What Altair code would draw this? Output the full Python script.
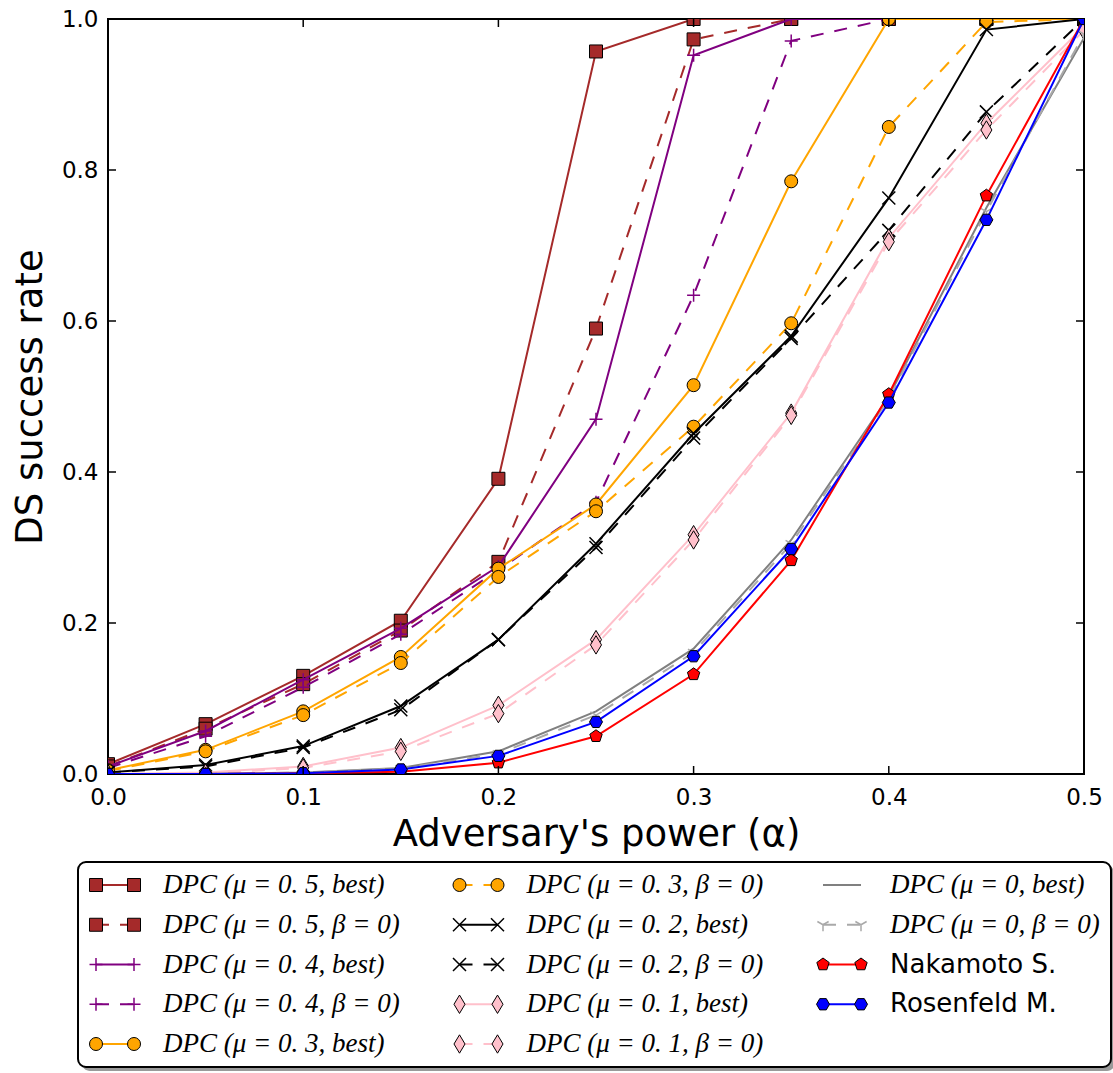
import altair as alt
import pandas as pd

# ---------------- data ----------------
alpha = [0.0, 0.05, 0.1, 0.15, 0.2, 0.25, 0.3, 0.35, 0.4, 0.45, 0.5]

labels = [
    "DPC (μ = 0. 5, best)", "DPC (μ = 0. 5, β = 0)",
    "DPC (μ = 0. 4, best)", "DPC (μ = 0. 4, β = 0)",
    "DPC (μ = 0. 3, best)", "DPC (μ = 0. 3, β = 0)",
    "DPC (μ = 0. 2, best)", "DPC (μ = 0. 2, β = 0)",
    "DPC (μ = 0. 1, best)", "DPC (μ = 0. 1, β = 0)",
    "DPC (μ = 0, best)", "DPC (μ = 0, β = 0)",
    "Nakamoto S.", "Rosenfeld M.",
]

mu05_best = [0.013, 0.066, 0.130, 0.203, 0.391, 0.957, 1.0, 1.0, 1.0, 1.0, 1.0]
mu05_b0 = [0.010, 0.060, 0.119, 0.190, 0.281, 0.590, 0.973, 1.0, 1.0, 1.0, 1.0]
mu04_best = [0.010, 0.057, 0.125, 0.193, 0.275, 0.470, 0.952, 1.0, 1.0, 1.0, 1.0]
mu04_b0 = [0.008, 0.050, 0.115, 0.185, 0.270, 0.360, 0.634, 0.971, 1.0, 1.0, 1.0]
mu03_best = [0.005, 0.032, 0.083, 0.155, 0.272, 0.357, 0.515, 0.785, 1.0, 1.0, 1.0]
mu03_b0 = [0.004, 0.030, 0.078, 0.147, 0.261, 0.348, 0.460, 0.597, 0.857, 0.996, 1.0]
mu02_best = [0.002, 0.012, 0.037, 0.090, 0.178, 0.305, 0.451, 0.580, 0.763, 0.986, 1.0]
mu02_b0 = [0.002, 0.010, 0.035, 0.085, 0.178, 0.300, 0.445, 0.577, 0.720, 0.877, 1.0]
mu01_best = [0.0, 0.002, 0.010, 0.035, 0.091, 0.178, 0.317, 0.478, 0.710, 0.862, 0.990]
mu01_b0 = [0.0, 0.001, 0.008, 0.030, 0.080, 0.171, 0.310, 0.475, 0.705, 0.853, 0.985]
mu0_best = [0.0, 0.0, 0.002, 0.008, 0.030, 0.083, 0.166, 0.310, 0.500, 0.750, 0.975]
mu0_b0 = [0.0, 0.0, 0.002, 0.007, 0.027, 0.078, 0.161, 0.305, 0.497, 0.745, 0.980]
nakamoto = [0.0, 0.0, 0.001, 0.003, 0.015, 0.050, 0.132, 0.283, 0.503, 0.766, 1.0]
rosenfeld = [0.0, 0.0, 0.001, 0.006, 0.024, 0.069, 0.156, 0.298, 0.492, 0.734, 1.0]

series_values = [mu05_best, mu05_b0, mu04_best, mu04_b0, mu03_best, mu03_b0,
                 mu02_best, mu02_b0, mu01_best, mu01_b0, mu0_best, mu0_b0,
                 nakamoto, rosenfeld]

x_ticks = [0.0, 0.1, 0.2, 0.3, 0.4, 0.5]
y_ticks = [0.0, 0.2, 0.4, 0.6, 0.8, 1.0]

# ---------------- styles ----------------
PLUS = "M-1,0L1,0M0,-1L0,1"
CROSS = "M-1,-1L1,1M-1,1L1,-1"
THIN_DIAMOND = "M0,-1.414L0.849,0L0,1.414L-0.849,0Z"
PENTAGON = "M0,-1L0.951,-0.309L0.588,0.809L-0.588,0.809L-0.951,-0.309Z"
HEXAGON = "M-1,0L-0.5,-0.866L0.5,-0.866L1,0L0.5,0.866L-0.5,0.866Z"
TRI_DOWN = "M0,0L0,1M0,0L0.866,-0.5M0,0L-0.866,-0.5"

styles = [
    dict(color="#a52a2a", dash=False, shape="square", filled=True),
    dict(color="#a52a2a", dash=True, shape="square", filled=True),
    dict(color="#800080", dash=False, shape=PLUS, filled=False),
    dict(color="#800080", dash=True, shape=PLUS, filled=False),
    dict(color="#ffa500", dash=False, shape="circle", filled=True),
    dict(color="#ffa500", dash=True, shape="circle", filled=True),
    dict(color="#000000", dash=False, shape=CROSS, filled=False),
    dict(color="#000000", dash=True, shape=CROSS, filled=False),
    dict(color="#ffc0cb", dash=False, shape=THIN_DIAMOND, filled=True),
    dict(color="#ffc0cb", dash=True, shape=THIN_DIAMOND, filled=True),
    dict(color="#808080", dash=False, shape=None, filled=False),
    dict(color="#a9a9a9", dash=True, shape=TRI_DOWN, filled=False),
    dict(color="#ff0000", dash=False, shape=PENTAGON, filled=True),
    dict(color="#0000ff", dash=False, shape=HEXAGON, filled=True),
]
DASH = [13, 11]
MSIZE = 169
W, H = 976, 755

xscale = alt.Scale(domain=[0, 0.5], nice=False, zero=False)
yscale = alt.Scale(domain=[0, 1], nice=False, zero=False)

xaxis = alt.Axis(values=x_ticks, format=".1f", title="Adversary's power (α)",
                 ticks=False, domain=False, grid=False,
                 labelFont="DejaVu Sans", labelFontSize=23, labelColor="black",
                 labelPadding=12, titleFont="DejaVu Sans", titleFontSize=37,
                 titleFontWeight="normal", titleColor="black", titlePadding=7,
                 labelFlush=False, labelOverlap=False)
yaxis = alt.Axis(values=y_ticks, format=".1f", title="DS success rate",
                 ticks=False, domain=False, grid=False,
                 labelFont="DejaVu Sans", labelFontSize=23, labelColor="black",
                 labelPadding=10, titleFont="DejaVu Sans", titleFontSize=37,
                 titleFontWeight="normal", titleColor="black", titlePadding=12,
                 labelFlush=False, labelOverlap=False)


def point_mark(data, st, **kw):
    if st["filled"]:
        return alt.Chart(data).mark_point(shape=st["shape"], size=MSIZE, filled=True,
                                          fill=st["color"], stroke="black",
                                          strokeWidth=1, opacity=1, **kw)
    return alt.Chart(data).mark_point(shape=st["shape"], size=MSIZE, filled=False,
                                      stroke=st["color"], strokeWidth=1.5,
                                      opacity=1, **kw)


layers = []
# ---------------- data layers ----------------
for i, (vals, st) in enumerate(zip(series_values, styles)):
    df = pd.DataFrame({"alpha": alpha, "rate": vals})
    ex = alt.X("alpha:Q", scale=xscale, axis=xaxis)
    ey = alt.Y("rate:Q", scale=yscale, axis=yaxis)
    lkw = dict(color=st["color"], strokeWidth=2, clip=True)
    if st["dash"]:
        lkw["strokeDash"] = DASH
    layers.append(alt.Chart(df).mark_line(**lkw).encode(x=ex, y=ey))
    if st["shape"] is not None:
        layers.append(point_mark(df, st, clip=True).encode(x=ex, y=ey))

# inward tick marks on all four sides
xt = pd.DataFrame({"alpha": x_ticks[1:-1]})
yt = pd.DataFrame({"rate": y_ticks[1:-1]})
tick_x = alt.X("alpha:Q", scale=xscale, axis=xaxis)
tick_y = alt.Y("rate:Q", scale=yscale, axis=yaxis)
layers += [
    alt.Chart(xt).mark_rule(color="black", strokeWidth=1.5).encode(
        x=tick_x, y=alt.value(H), y2=alt.value(H - 8)),
    alt.Chart(xt).mark_rule(color="black", strokeWidth=1.5).encode(
        x=tick_x, y=alt.value(0), y2=alt.value(8)),
    alt.Chart(yt).mark_rule(color="black", strokeWidth=1.5).encode(
        y=tick_y, x=alt.value(0), x2=alt.value(8)),
    alt.Chart(yt).mark_rule(color="black", strokeWidth=1.5).encode(
        y=tick_y, x=alt.value(W), x2=alt.value(W - 8)),
]

# ---------------- custom legend (below the axes) ----------------
one = pd.DataFrame({"k": [0]})
LEG_LEFT, LEG_RIGHT, LEG_TOP, LEG_BOTTOM = -30, 1003, 843, 1048
COL0, COL_STEP, ROW0, ROW_STEP = -12, 363.5, 866, 39.75
layers += [
    alt.Chart(one).mark_rect(fill="#9a9a9a", cornerRadius=8).encode(
        x=alt.value(LEG_LEFT + 4), x2=alt.value(LEG_RIGHT + 4),
        y=alt.value(LEG_TOP + 4), y2=alt.value(LEG_BOTTOM + 4)),
    alt.Chart(one).mark_rect(fill="white", stroke="black", strokeWidth=2,
                             cornerRadius=8).encode(
        x=alt.value(LEG_LEFT), x2=alt.value(LEG_RIGHT),
        y=alt.value(LEG_TOP), y2=alt.value(LEG_BOTTOM)),
]
for i, (lab, st) in enumerate(zip(labels, styles)):
    px = COL0 + COL_STEP * (i // 5)
    py = ROW0 + ROW_STEP * (i % 5)
    ldf = pd.DataFrame({"label": [lab]})
    rkw = dict(color=st["color"], strokeWidth=2)
    if st["dash"]:
        rkw["strokeDash"] = DASH
    layers.append(alt.Chart(ldf).mark_rule(**rkw).encode(
        x=alt.value(px), x2=alt.value(px + 38), y=alt.value(py)))
    if st["shape"] is not None:
        for off in (0, 38):
            layers.append(point_mark(ldf, st).encode(
                x=alt.value(px + off), y=alt.value(py)))
    if lab.startswith("DPC"):
        tkw = dict(font="Liberation Serif", fontSize=27, fontStyle="italic")
    else:
        tkw = dict(font="DejaVu Sans", fontSize=26)
    layers.append(
        alt.Chart(ldf).mark_text(align="left", baseline="middle",
                                 color="black", **tkw)
        .encode(x=alt.value(px + 67), y=alt.value(py), text="label:N"))

chart = (
    alt.layer(*layers)
    .properties(width=W, height=H,
                autosize=alt.AutoSizeParams(type="none"),
                padding={"left": 108, "top": 19, "right": 29, "bottom": 299},
                background="white")
    .configure_view(stroke="black", strokeWidth=2)
)

chart.save("out.html", embed_options={"renderer": "svg", "actions": False})
